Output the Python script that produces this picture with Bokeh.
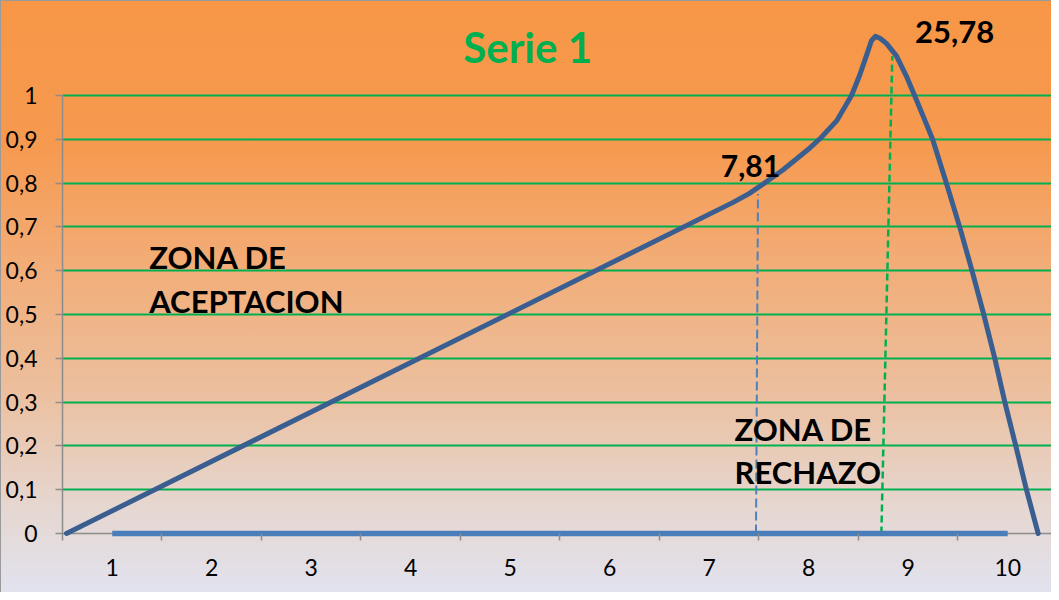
from bokeh.plotting import figure
from bokeh.models import FixedTicker, Label, Range1d, Span
from bokeh.embed import file_html
from bokeh.resources import INLINE

# ---- data ----
categories = [1, 2, 3, 4, 5, 6, 7, 8, 9, 10]
cat_labels = ["1", "2", "3", "4", "5", "6", "7", "8", "9", "10"]
cat_bounds = [0.5, 1.5, 2.5, 3.5, 4.5, 5.5, 6.5, 7.5, 8.5, 9.5, 10.5]

y_ticks = [0, 0.1, 0.2, 0.3, 0.4, 0.5, 0.6, 0.7, 0.8, 0.9, 1]
y_labels = ["0", "0,1", "0,2", "0,3", "0,4", "0,5", "0,6", "0,7", "0,8", "0,9", "1"]

serie1_x = [0.54, 7.24, 7.40, 7.556, 7.74, 7.99, 8.12, 8.28, 8.43, 8.51, 8.58, 8.63, 8.67,
            8.72, 8.78, 8.88, 8.98, 9.064, 9.155, 9.245, 9.383, 9.517, 9.641, 9.759,
            9.87, 9.971, 10.081, 10.188, 10.306]
serie1_y = [0.0, 0.756, 0.776, 0.800, 0.830, 0.876, 0.903, 0.942, 1.000, 1.045, 1.091, 1.125, 1.135,
            1.130, 1.119, 1.091, 1.045, 1.000, 0.950, 0.900, 0.800, 0.700, 0.600, 0.500,
            0.400, 0.300, 0.200, 0.100, 0.0]

serie2_y = [0, 0, 0, 0, 0, 0, 0, 0, 0, 0]

crit_x0 = [7.47, 8.73]
crit_x1 = [7.49, 8.84]
crit_y1 = [0.775, 1.09]
crit_colors = ["#4F81BD", "#00B050"]
crit_texts = ["7,81", "25,78"]

title_text = "Serie 1"
zone_accept = ["ZONA DE", "ACEPTACION"]
zone_reject = ["ZONA DE", "RECHAZO"]

FONT = "Lato"
GREEN = "#00B050"
GREY = "#8C8C8C"

p = figure(width=1051, height=592,
           x_range=Range1d(0.5, 10.44), y_range=Range1d(-0.0114, 1.1986),
           output_backend="svg", toolbar_location=None,
           min_border_left=62, min_border_right=0, min_border_top=8, min_border_bottom=54)

p.background_fill_alpha = 0
p.border_fill_alpha = 0
p.outline_line_color = None
p.styles = {
    "background": "linear-gradient(to bottom, #F79646 0%, #F69A50 25%, #F2AD78 45%, #ECBE9C 65%, #E6D6CF 85%, #E1E2EE 100%)",
    "box-shadow": "inset 1px 1px 0 #9A9A9A",
}

# grid
p.xgrid.visible = False
p.ygrid.ticker = FixedTicker(ticks=y_ticks[1:])
p.ygrid.grid_line_color = GREEN
p.ygrid.grid_line_width = 2

# x axis (line drawn at y = 0 by a span)
xa = p.xaxis[0]
xa.ticker = FixedTicker(ticks=categories, minor_ticks=cat_bounds)
xa.major_label_overrides = dict(zip(categories, cat_labels))
xa.major_tick_line_color = None
xa.minor_tick_line_color = GREY
xa.minor_tick_line_width = 1.5
xa.minor_tick_in = 5
xa.minor_tick_out = 2
xa.axis_line_color = None
xa.major_label_text_font = FONT
xa.major_label_text_font_size = "23px"
xa.major_label_text_color = "#000000"
xa.major_label_standoff = 14

p.add_layout(Span(location=0, dimension="width", line_color=GREY, line_width=1.5,
                  level="underlay"))

# y axis
ya = p.yaxis[0]
ya.ticker = FixedTicker(ticks=y_ticks)
ya.major_label_overrides = dict(zip(y_ticks, y_labels))
ya.bounds = (0, 1)
ya.minor_tick_line_color = None
ya.major_tick_line_color = GREY
ya.major_tick_line_width = 1.5
ya.major_tick_in = 0
ya.major_tick_out = 7
ya.axis_line_color = GREY
ya.axis_line_width = 1.5
ya.major_label_text_font = FONT
ya.major_label_text_font_size = "23px"
ya.major_label_text_color = "#000000"
ya.major_label_standoff = 18

# critical value dashed lines
p.segment(x0=crit_x0[0], y0=0, x1=crit_x1[0], y1=crit_y1[0], line_color=crit_colors[0],
          line_width=2, line_dash="9 4")
p.segment(x0=crit_x0[1], y0=0, x1=crit_x1[1], y1=crit_y1[1], line_color=crit_colors[1],
          line_width=2.5, line_dash="7 4")

# series
p.line(categories, serie2_y, line_color="#4A7EBB", line_width=5.5)
p.line(serie1_x, serie1_y, line_color="#3A5E8F", line_width=5,
       line_join="round", line_cap="round")

# texts
p.add_layout(Label(x=5.175, y=1.110, text=title_text, text_align="center",
                   text_baseline="alphabetic", text_font=FONT, text_font_style="bold",
                   text_font_size="42px", text_color=GREEN))
p.add_layout(Label(x=7.117, y=0.839, text=crit_texts[0], text_baseline="alphabetic",
                   text_font=FONT, text_font_style="bold", text_font_size="30px",
                   text_color="#000000"))
p.add_layout(Label(x=9.068, y=1.1445, text=crit_texts[1], text_baseline="alphabetic",
                   text_font=FONT, text_font_style="bold", text_font_size="31px",
                   text_color="#000000"))
for txt, yy in zip(zone_accept, [0.632, 0.5317]):
    p.add_layout(Label(x=1.372, y=yy, text=txt, text_baseline="alphabetic",
                       text_font=FONT, text_font_style="bold", text_font_size="31px",
                       text_color="#000000"))
for txt, yy in zip(zone_reject, [0.2388, 0.140]):
    p.add_layout(Label(x=7.254, y=yy, text=txt, text_baseline="alphabetic",
                       text_font=FONT, text_font_style="bold", text_font_size="31px",
                       text_color="#000000"))

open("out.html", "w").write(file_html(p, INLINE))
